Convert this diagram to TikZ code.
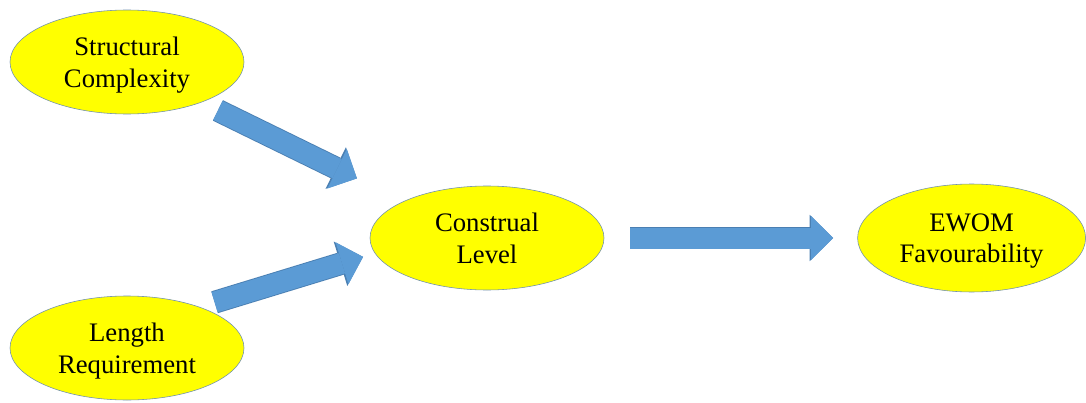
\documentclass[tikz,border=0pt]{standalone}
\usepackage{fontspec}
\setmainfont{Liberation Serif}
\usetikzlibrary{shapes.geometric,arrows.meta}
\definecolor{nodeyellow}{HTML}{FFFF00}
\definecolor{nodeedge}{HTML}{6F8FB0}
\definecolor{arrowblue}{HTML}{5B9BD5}
\definecolor{arrowedge}{HTML}{4A7FB2}

\begin{document}
\begin{tikzpicture}[>=latex,
        factor/.style={ellipse, draw=nodeedge, thin, fill=nodeyellow, inner sep=0pt,
            minimum width=5.85cm, minimum height=2.6cm, align=center,
            font=\fontsize{19}{22.5}\selectfont, text depth=0pt},
        blockarrow/.style={
            preaction={draw=arrowedge, line width=0.57cm,
                -{Triangle[width=1.16cm,length=0.59cm,line width=0pt]}},
            line width=0.525cm, draw=arrowblue,
            -{Triangle[width=1.1cm,length=0.55cm,line width=0pt]}}]
        \useasboundingbox (0,0) rectangle (27.15,-10.075);
        % ==== FACTORS ====
        \node[factor] (structural) at (3.175,-1.55) {Structural\\Complexity};
        \node[factor] (length) at (3.175,-8.7) {Length\\Requirement};
        \node[factor] (construal) at (12.175,-5.95) {Construal\\Level};
        \node[factor, minimum width=5.7cm, minimum height=2.7cm] (ewom) at (24.29,-5.95) {EWOM\\Favourability};

        % ==== BLOCK ARROWS ====
        \draw[blockarrow, shorten <=2.53cm, shorten >=3.62cm]
            ([yshift=-0.1cm]structural.center) -- ([yshift=-0.1cm]construal.center);
        \draw[blockarrow, shorten <=2.29cm, shorten >=3.24cm]
            ([yshift=0.475cm]length.center) -- ([yshift=0.475cm]construal.center);
        \draw[blockarrow, shorten <=3.58cm, shorten >=3.46cm]
            (construal.center) -- (ewom.center);
     \end{tikzpicture}
\end{document}
